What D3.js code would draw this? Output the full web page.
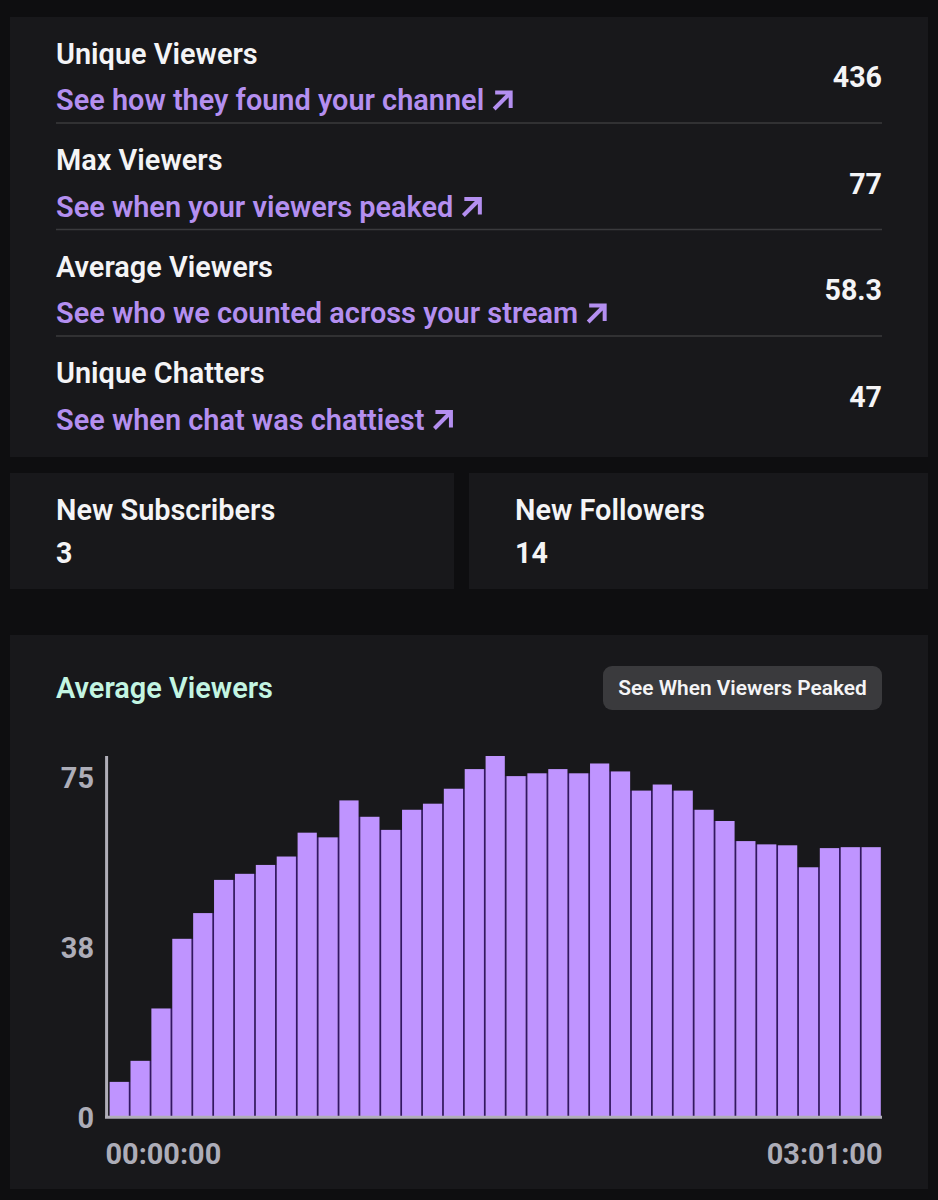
<!DOCTYPE html>
<html>
<head>
<meta charset="utf-8">
<script src="https://cdn.jsdelivr.net/npm/d3@7"></script>
<style>
  html, body { margin: 0; padding: 0; background: #0e0e10; }
  svg { display: block; font-family: Roboto, sans-serif; }
</style>
</head>
<body>
<svg id="chart" width="938" height="1200"></svg>
<script>
const statLabels = ["Unique Viewers", "Max Viewers", "Average Viewers", "Unique Chatters"];
const statLinks = [
  "See how they found your channel",
  "See when your viewers peaked",
  "See who we counted across your stream",
  "See when chat was chattiest"
];
const statValues = ["436", "77", "58.3", "47"];
const newLabels = ["New Subscribers", "New Followers"];
const newValues = ["3", "14"];

const chartTitle = "Average Viewers";
const buttonLabel = "See When Viewers Peaked";
const yTickLabels = [75, 38, 0];
const xTickLabels = ["00:00:00", "03:01:00"];
const viewers = [
  7.3, 11.8, 23, 37.9, 43.4, 50.5, 51.8, 53.7, 55.5, 60.6, 59.6, 67.5, 64,
  61.2, 65.5, 66.8, 70, 74.2, 77, 72.7, 73.3, 74.2, 73.3, 75.4, 73.7, 69.6,
  70.9, 69.6, 65.5, 63.1, 58.8, 58.1, 57.9, 53.2, 57.3, 57.5, 57.5
];

const width = 938;
const height = 1200;
const textSize = 28.6;
const labelSize = 28.9;

const svg = d3.select("#chart");

svg.append("rect")
  .attr("width", width)
  .attr("height", height)
  .attr("fill", "#0e0e10");

const panels = [
  [10, 17, 918, 440],
  [10, 473, 444, 116],
  [469, 473, 459, 116],
  [10, 635, 918, 554]
];
svg.selectAll(".panel")
  .data(panels)
  .enter()
  .append("rect")
  .attr("class", "panel")
  .attr("x", d => d[0])
  .attr("y", d => d[1])
  .attr("width", d => d[2])
  .attr("height", d => d[3])
  .attr("fill", "#18181b");

// Stat rows
const rowHeight = 106.5;
const rows = svg.selectAll(".row")
  .data(statLabels)
  .enter()
  .append("g")
  .attr("class", "row")
  .attr("transform", (d, i) => `translate(0, ${i * rowHeight})`);

rows.append("text")
  .attr("x", 56)
  .attr("y", 63.6)
  .attr("fill", "#f4f4f6")
  .attr("font-size", labelSize)
  .attr("font-weight", 600)
  .text(d => d);

const links = rows.append("text")
  .attr("x", 56)
  .attr("y", 110.3)
  .attr("fill", "#b48ff0")
  .attr("font-size", labelSize)
  .attr("font-weight", 600)
  .text((d, i) => statLinks[i]);

// Arrow follows the link text
rows.each(function (d, i) {
  const textEnd = 56 + links.nodes()[i].getComputedTextLength();
  d3.select(this).append("path")
    .attr("transform", `translate(${textEnd + 8}, 91)`)
    .attr("d", "M3 1.5H18.5V17M18 2L2 18")
    .attr("fill", "none")
    .attr("stroke", "#b48ff0")
    .attr("stroke-width", 4);
});

rows.append("text")
  .attr("x", 882)
  .attr("y", 87)
  .attr("text-anchor", "end")
  .attr("fill", "#f4f4f6")
  .attr("font-size", textSize)
  .attr("font-weight", 700)
  .text((d, i) => statValues[i]);

rows.filter((d, i) => i < statLabels.length - 1)
  .append("line")
  .attr("x1", 56)
  .attr("x2", 882)
  .attr("y1", 123)
  .attr("y2", 123)
  .attr("stroke", "#3a3a3d")
  .attr("stroke-width", 1.5);

// New subscribers / followers
const newX = [56, 515];
const news = svg.selectAll(".new")
  .data(newLabels)
  .enter()
  .append("g")
  .attr("class", "new")
  .attr("transform", (d, i) => `translate(${newX[i]}, 0)`);

news.append("text")
  .attr("y", 519.6)
  .attr("fill", "#f4f4f6")
  .attr("font-size", labelSize)
  .attr("font-weight", 600)
  .text(d => d);

news.append("text")
  .attr("y", 562.5)
  .attr("fill", "#f4f4f6")
  .attr("font-size", textSize)
  .attr("font-weight", 700)
  .text((d, i) => newValues[i]);

// Chart header
svg.append("text")
  .attr("x", 56)
  .attr("y", 698.4)
  .attr("fill", "#c3f5e2")
  .attr("font-size", labelSize)
  .attr("font-weight", 600)
  .text(chartTitle);

svg.append("rect")
  .attr("x", 603)
  .attr("y", 666)
  .attr("width", 279)
  .attr("height", 44)
  .attr("rx", 9)
  .attr("fill", "#3a3a3d");

svg.append("text")
  .attr("x", 742.5)
  .attr("y", 695)
  .attr("text-anchor", "middle")
  .attr("fill", "#f4f4f6")
  .attr("font-size", 20.9)
  .attr("font-weight", 600)
  .text(buttonLabel);

// Bars
const x = d3.scaleBand()
  .domain(d3.range(viewers.length))
  .range([109.6, 880.8])
  .paddingInner(0.08);

const y = d3.scaleLinear()
  .domain([0, 77])
  .range([1116, 756]);

// Dark separators between neighbouring bars
svg.selectAll(".sep")
  .data(viewers.slice(1))
  .enter()
  .append("rect")
  .attr("class", "sep")
  .attr("x", (d, i) => x(i) + x.bandwidth())
  .attr("width", x.step() - x.bandwidth())
  .attr("y", (d, i) => y(Math.min(d, viewers[i])))
  .attr("height", (d, i) => y(0) - y(Math.min(d, viewers[i])))
  .attr("fill", "#331664");

svg.selectAll(".bar")
  .data(viewers)
  .enter()
  .append("rect")
  .attr("class", "bar")
  .attr("x", (d, i) => x(i))
  .attr("y", d => y(d))
  .attr("width", x.bandwidth())
  .attr("height", d => y(0) - y(d))
  .attr("fill", "#bf94ff");

// Axis lines
svg.append("line")
  .attr("x1", 105)
  .attr("x2", 882)
  .attr("y1", 1117.2)
  .attr("y2", 1117.2)
  .attr("stroke", "#b0aeb8")
  .attr("stroke-width", 3);

svg.append("line")
  .attr("x1", 106.6)
  .attr("x2", 106.6)
  .attr("y1", 756)
  .attr("y2", 1118)
  .attr("stroke", "#b0aeb8")
  .attr("stroke-width", 3);

// Tick labels sit evenly spaced, not on the bar scale
const yLabelScale = d3.scalePoint()
  .domain(yTickLabels)
  .range([778.5, 1118.5]);

const yAxis = svg.append("g")
  .attr("transform", "translate(94, 0)")
  .call(d3.axisLeft(yLabelScale).tickSize(0).tickPadding(0));
yAxis.select(".domain").remove();
yAxis.selectAll("text")
  .attr("fill", "#adadb8")
  .attr("font-family", "Roboto, sans-serif")
  .attr("font-size", labelSize)
  .attr("font-weight", 700);

const xLabelScale = d3.scalePoint()
  .domain(xTickLabels)
  .range([105, 882]);

const xAxis = svg.append("g")
  .attr("transform", "translate(0, 1135)")
  .call(d3.axisBottom(xLabelScale).tickSize(0).tickPadding(0));
xAxis.select(".domain").remove();
xAxis.selectAll("text")
  .attr("y", 29)
  .attr("dy", 0)
  .attr("fill", "#adadb8")
  .attr("font-family", "Roboto, sans-serif")
  .attr("font-size", labelSize)
  .attr("font-weight", 700)
  .attr("text-anchor", (d, i) => i === 0 ? "start" : "end");
</script>
</body>
</html>
